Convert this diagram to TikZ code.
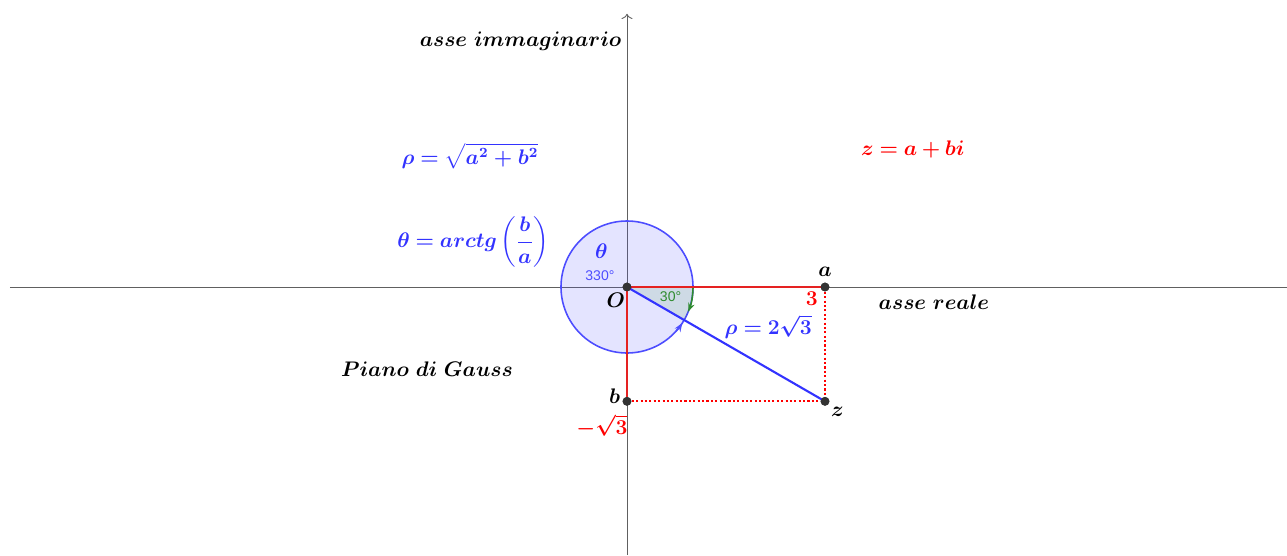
\documentclass[tikz,border=0pt]{standalone}
\usepackage{amsmath}
\usepackage{bm}
\usepackage{fontspec}
\newfontfamily\ggsans{Liberation Sans}
\usetikzlibrary{arrows.meta, positioning}
\definecolor{bluGG}{HTML}{3333FF}
\definecolor{cerchioGG}{HTML}{4D4DFF}
\definecolor{rossoGG}{HTML}{FF0000}
\definecolor{lineaRossa}{HTML}{E52222}
\definecolor{verdeGG}{HTML}{2E8B2E}
\definecolor{grigioAssi}{HTML}{606060}
\definecolor{puntoGG}{HTML}{333333}

\begin{document}
\begin{tikzpicture}[x=1.32cm, y=1.32cm,
        asse/.style={grigioAssi, line width=0.5pt},
        pt/.style={circle, fill=puntoGG, inner sep=0pt, minimum size=5pt},
        lbl/.style={font=\large, text=black},
        segR/.style={lineaRossa, line width=1.2pt},
        tratR/.style={rossoGG, line width=1pt, dash pattern=on 1.2pt off 1.3pt},
        gradi/.style={font=\ggsans\footnotesize, inner sep=0pt}
    ]
        \useasboundingbox (-9.5,-4.0606) rectangle (10,4.3485);

        % assi
        \coordinate (xs) at (-9.35,0);
        \coordinate (xd) at (10,0);
        \coordinate (yb) at (0,-4.0606);
        \coordinate (ya) at (0,4.14);
        \draw[asse] (xs) -- (xd);
        \draw[asse, -{To[length=3pt]}] (yb) -- (ya);

        % cerchio e settore
        \fill[cerchioGG, opacity=0.15] (0,0) circle (1);
        \draw[cerchioGG, line width=0.9pt] (0,0) circle (1);
        \fill[verdeGG, opacity=0.12] (0,0) -- (0:1) arc (0:-30:1) -- cycle;
        \draw[verdeGG, line width=0.9pt, -{Stealth[length=5pt]}] (0:1) arc (0:-22:1);
        \draw[cerchioGG, line width=0.9pt, -{Stealth[length=5pt]}] (-42:1) arc (-42:-33:1);

        % punti
        \node[pt] (O) at (0,0) {};
        \node[pt] (a) at (3,0) {};
        \node[pt] (b) at (0,-1.7321) {};
        \node[pt] (z) at (3,-1.7321) {};

        \draw[segR] (O.center) -- (a.center);
        \draw[segR] (O.center) -- (b.center);
        \draw[tratR] (a) -- (z);
        \draw[tratR] (b) -- (z);
        \draw[bluGG, line width=1.2pt] (O.center) -- (z.center);
        \node[pt] at (O) {};
        \node[pt] at (a) {};
        \node[pt] at (b) {};
        \node[pt] at (z) {};

        % etichette punti
        \node[lbl, left=1pt of b, yshift=3pt, inner sep=0pt] (lb) {$\bm{b}$};
        \node[lbl, above=0pt of a] (la) {$\bm{a}$};
        \node[lbl, below right=-2pt and -2pt of z] (lz) {$\bm{z}$};
        \node[lbl] (lO) at (-0.17,-0.2) {$\bm{O}$};
        \node[lbl, text=rossoGG] (l3) at (2.8,-0.18) {$\bm{3}$};
        \node[lbl, text=rossoGG, inner sep=0pt] (lmr) at (-0.38,-2.1) {$\bm{-\sqrt{3}}$};
        \node[lbl, text=bluGG] (lrho) at (2.14,-0.6) {$\bm{\rho = 2\sqrt{3}}$};
        \node[lbl, text=bluGG] (lth) at (-0.39,0.55) {$\bm{\theta}$};
        \node[gradi, text=cerchioGG] (g330) at (-0.41,0.17) {330\textdegree};
        \node[gradi, text=verdeGG] (g30) at (0.66,-0.14) {30\textdegree};

        % testi
        \node[lbl, anchor=east, inner sep=0pt] (asseIm) at (-0.08,3.73) {$\bm{asse\ immaginario}$};
        \node[lbl] (asseRe) at (4.65,-0.23) {$\bm{asse\ reale}$};
        \node[lbl] (gauss) at (-3.03,-1.24) {$\bm{Piano\ di\ Gauss}$};
        \node[lbl, text=rossoGG] (formz) at (4.33,2.08) {$\bm{z = a + bi}$};
        \node[lbl, text=bluGG] (formrho) at (-2.38,1.98) {$\bm{\rho = \sqrt{a^2 + b^2}}$};
        \node[lbl, text=bluGG] (formth) at (-2.33,0.68) {$\bm{\theta = arctg\left(\dfrac{b}{a}\right)}$};
    \end{tikzpicture}
\end{document}
